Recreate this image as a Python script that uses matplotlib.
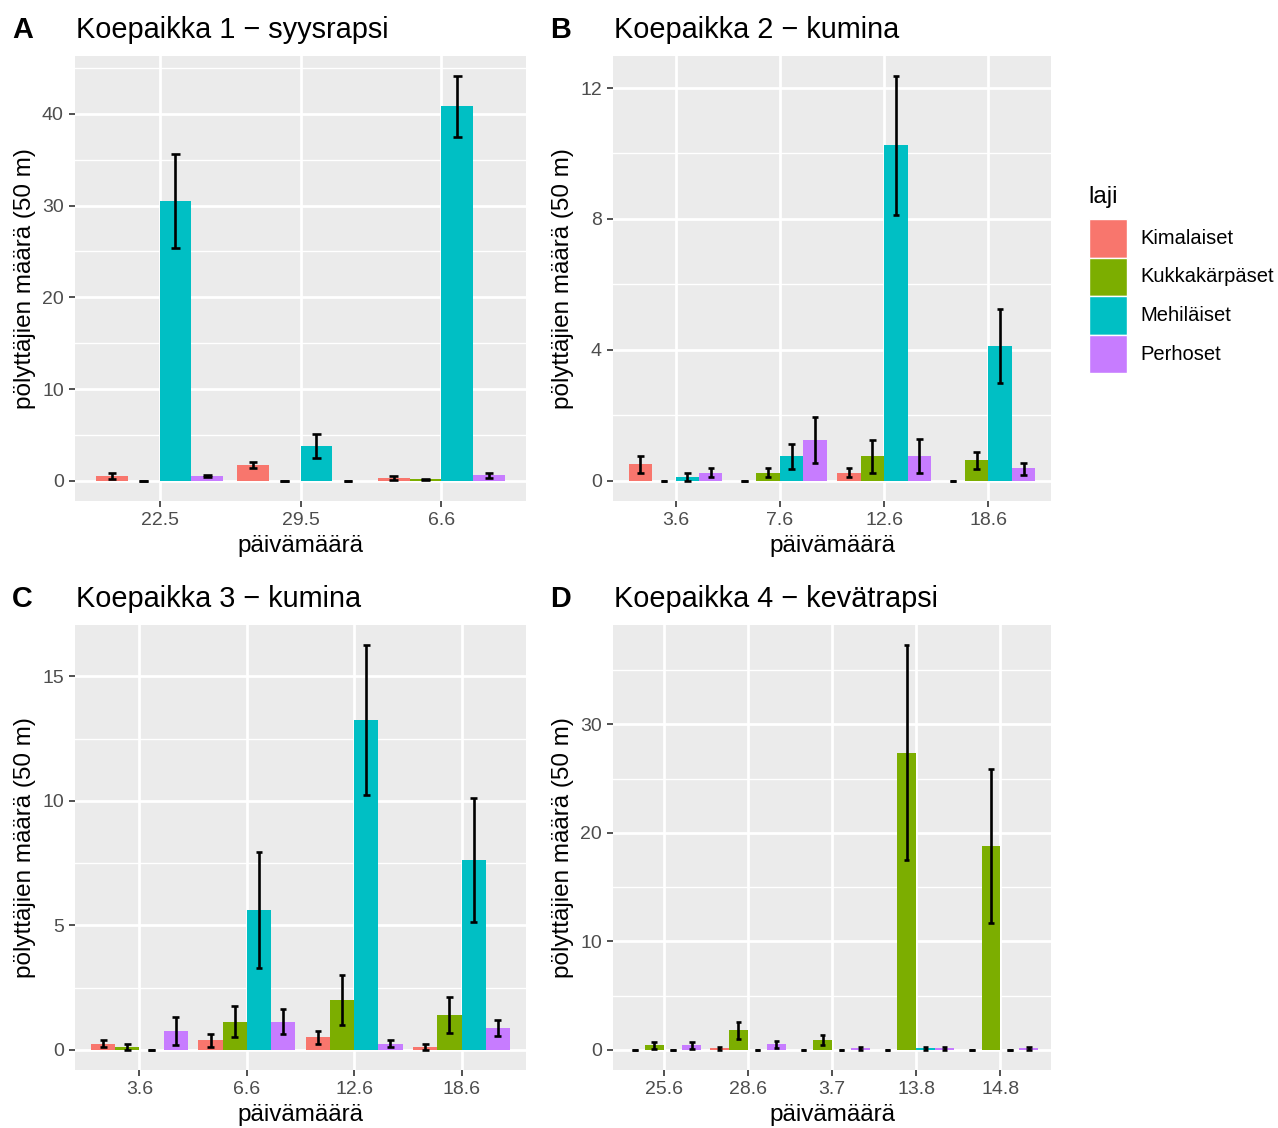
import matplotlib
matplotlib.use("Agg")
import matplotlib.pyplot as plt
from matplotlib.patches import Rectangle
from matplotlib.ticker import FixedLocator
import numpy as np

plt.rcParams['font.family'] = ['Liberation Sans', 'DejaVu Sans']

species = ["Kimalaiset", "Kukkakärpäset", "Mehiläiset", "Perhoset"]
colors = ["#F8766D", "#7CAE00", "#00BFC4", "#C77CFF"]

# ---- Panel A: Koepaikka 1 - syysrapsi
dates_A = ["22.5", "29.5", "6.6"]
mean_A = [[0.47, 1.70, 0.30], [0.0, 0.0, 0.15], [30.5, 3.8, 40.9], [0.50, 0.0, 0.60]]
lo_A = [[0.20, 1.40, 0.05], [0.0, 0.0, 0.08], [25.4, 2.5, 37.5], [0.38, 0.0, 0.35]]
hi_A = [[0.80, 2.05, 0.50], [0.0, 0.0, 0.22], [35.6, 5.1, 44.1], [0.62, 0.0, 0.88]]
yticks_A = [0, 10, 20, 30, 40]
yminor_A = [5, 15, 25, 35, 45]

# ---- Panel B: Koepaikka 2 - kumina
dates_B = ["3.6", "7.6", "12.6", "18.6"]
mean_B = [[0.50, 0.0, 0.25, 0.0], [0.0, 0.25, 0.75, 0.62], [0.12, 0.75, 10.25, 4.12], [0.25, 1.25, 0.75, 0.38]]
lo_B = [[0.25, 0.0, 0.10, 0.0], [0.0, 0.10, 0.25, 0.35], [0.0, 0.35, 8.12, 2.98], [0.10, 0.55, 0.25, 0.17]]
hi_B = [[0.75, 0.0, 0.40, 0.0], [0.0, 0.40, 1.25, 0.88], [0.24, 1.13, 12.36, 5.26], [0.40, 1.95, 1.27, 0.55]]
yticks_B = [0, 4, 8, 12]
yminor_B = [2, 6, 10]

# ---- Panel C: Koepaikka 3 - kumina
dates_C = ["3.6", "6.6", "12.6", "18.6"]
mean_C = [[0.25, 0.38, 0.50, 0.12], [0.12, 1.12, 2.00, 1.38], [0.0, 5.62, 13.25, 7.62], [0.75, 1.12, 0.25, 0.88]]
lo_C = [[0.11, 0.13, 0.24, 0.0], [0.0, 0.50, 0.98, 0.66], [0.0, 3.30, 10.25, 5.12], [0.18, 0.62, 0.11, 0.55]]
hi_C = [[0.41, 0.63, 0.76, 0.24], [0.24, 1.75, 3.02, 2.10], [0.0, 7.94, 16.25, 10.12], [1.32, 1.62, 0.39, 1.20]]
yticks_C = [0, 5, 10, 15]
yminor_C = [2.5, 7.5, 12.5]

# ---- Panel D: Koepaikka 4 - kevätrapsi
dates_D = ["25.6", "28.6", "3.7", "13.8", "14.8"]
mean_D = [[0.0, 0.14, 0.0, 0.0, 0.0], [0.40, 1.80, 0.90, 27.4, 18.8], [0.0, 0.0, 0.0, 0.14, 0.0], [0.40, 0.50, 0.14, 0.14, 0.14]]
lo_D = [[0.0, 0.02, 0.0, 0.0, 0.0], [0.10, 0.95, 0.42, 17.5, 11.7], [0.0, 0.0, 0.0, 0.02, 0.0], [0.10, 0.20, 0.02, 0.02, 0.02]]
hi_D = [[0.0, 0.26, 0.0, 0.0, 0.0], [0.70, 2.60, 1.38, 37.3, 25.9], [0.0, 0.0, 0.0, 0.26, 0.0], [0.70, 0.80, 0.26, 0.26, 0.26]]
yticks_D = [0, 10, 20, 30]
yminor_D = [5, 15, 25, 35]

panels = [
    ("A", "Koepaikka 1 − syysrapsi", dates_A, mean_A, lo_A, hi_A, yticks_A, yminor_A),
    ("B", "Koepaikka 2 − kumina", dates_B, mean_B, lo_B, hi_B, yticks_B, yminor_B),
    ("C", "Koepaikka 3 − kumina", dates_C, mean_C, lo_C, hi_C, yticks_C, yminor_C),
    ("D", "Koepaikka 4 − kevätrapsi", dates_D, mean_D, lo_D, hi_D, yticks_D, yminor_D),
]

W, H = 1278, 1128
fig = plt.figure(figsize=(W / 100, H / 100), dpi=100)


def fx(px):
    return px / W


def fy(py):
    return 1 - py / H


# panel rectangles in pixels: left, top, right, bottom
boxes = [(75, 56, 526, 501), (613, 56, 1051, 501), (75, 625, 526, 1070), (613, 625, 1051, 1070)]

ylab = "pölyttäjien määrä (50 m)"
TICK_FS = 14
AXT_FS = 17.5
TITLE_FS = 20.8
LEG_FS = 14.5

for (lab, title, dates, means, los, his, yt, ym), (l, t, r, b) in zip(panels, boxes):
    ax = fig.add_axes([fx(l), fy(b), fx(r) - fx(l), fy(t) - fy(b)])
    ax.set_facecolor("#EBEBEB")
    n = len(dates)
    x = np.arange(n)
    bw = 0.225
    for j in range(4):
        xp = x + (j - 1.5) * bw
        ax.bar(xp, means[j], width=bw, color=colors[j], linewidth=0, zorder=2)
        lo = np.array(los[j])
        hi = np.array(his[j])
        cw = 0.03125
        ax.vlines(xp, lo, hi, color="black", lw=1.9, zorder=3)
        ax.hlines(lo, xp - cw, xp + cw, color="black", lw=1.9, zorder=3)
        ax.hlines(hi, xp - cw, xp + cw, color="black", lw=1.9, zorder=3)
    R = max(max(h) for h in his)
    ax.set_ylim(-0.05 * R, 1.05 * R)
    ax.set_xlim(-0.6, n - 1 + 0.6)
    ax.set_xticks(x)
    ax.set_xticklabels(dates)
    ax.set_yticks(yt)
    ax.set_yticklabels([str(v) for v in yt])
    ax.yaxis.set_minor_locator(FixedLocator(ym))
    ax.grid(which="major", color="white", lw=2.0, zorder=0)
    ax.grid(which="minor", axis="y", color="white", lw=1.0, zorder=0)
    ax.set_axisbelow(True)
    for s in ax.spines.values():
        s.set_visible(False)
    ax.tick_params(which="major", length=4.3, width=1.2, color="#333333",
                   labelsize=TICK_FS, labelcolor="#4D4D4D", pad=3.8)
    ax.tick_params(which="minor", length=0)
    ty = 38 if t < 300 else 607
    fig.text(fx(l + 1), fy(ty), title, fontsize=TITLE_FS, ha="left", va="baseline")
    fig.text(fx(l - 63), fy(ty), lab, fontsize=TITLE_FS, fontweight="bold", ha="left", va="baseline")
    fig.text(fx((l + r) / 2), fy(b + 45), "päivämäärä", fontsize=AXT_FS, ha="center", va="center")
    fig.text(fx(l - 50), fy((t + b) / 2), ylab, fontsize=AXT_FS, rotation=90, ha="center", va="center")

# legend
fig.text(fx(1088), fy(203), "laji", fontsize=AXT_FS, ha="left", va="baseline")
key = 38.6
for k, (sp, c) in enumerate(zip(species, colors)):
    top = 219 + k * key
    fig.add_artist(Rectangle((fx(1089), fy(top + key)), fx(1127) - fx(1089), fy(top) - fy(top + key),
                             transform=fig.transFigure, facecolor=c, edgecolor="white", lw=1.0))
    fig.text(fx(1140), fy(top + key / 2), sp, fontsize=LEG_FS, ha="left", va="center")

fig.savefig("out.png", dpi=100, facecolor="white")
